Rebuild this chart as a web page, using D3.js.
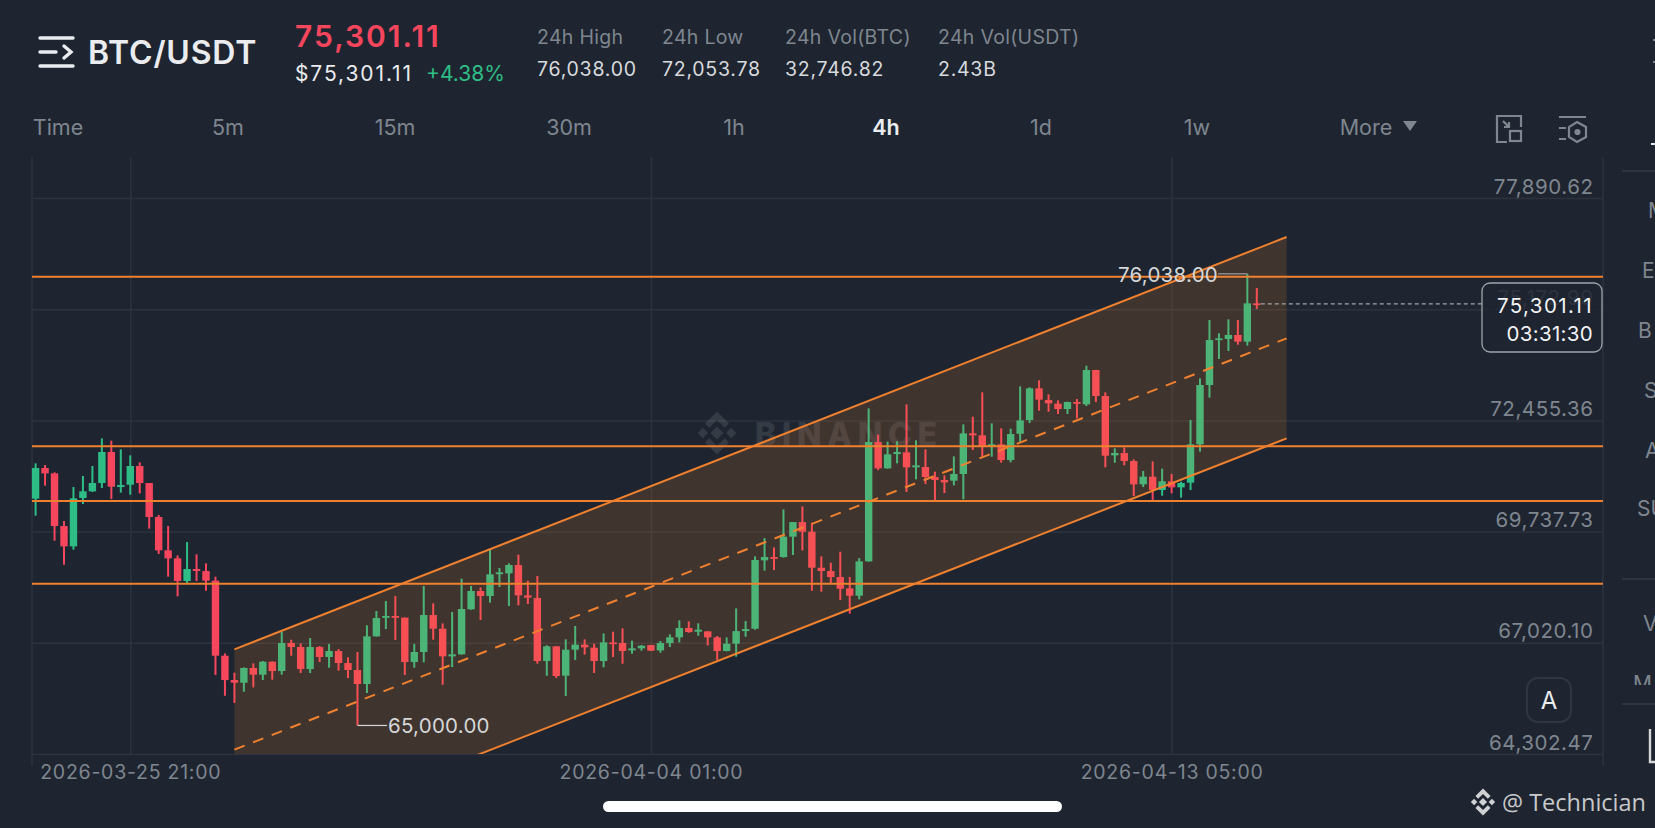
<!DOCTYPE html>
<html lang="en">
<head>
<meta charset="UTF-8">
<title>BTC/USDT 4h</title>
<script src="https://d3js.org/d3.v7.min.js"></script>
<style>
  html, body { margin: 0; padding: 0; background: #1e2530; overflow: hidden; }
  svg { display: block; font-family: Inter, "Noto Sans", sans-serif; }
</style>
</head>
<body>
<svg width="1655" height="828"></svg>
<script>
// candles, oldest first
const openPrices = [70542,71292,71161,69874,69377,70559,70722,70925,71683,70827,70884,71341,70925,70094,69280,69084,68530,68823,68774,68538,66705,66110,66045,66404,66241,66558,66330,67015,66917,66379,66917,66673,66819,66526,66355,66013,67178,67634,67675,67634,66550,66795,67699,67365,66689,66738,67838,68286,68163,68701,68717,68921,68180,68115,66575,66933,66216,66852,66974,66901,66574,67030,67014,66835,66884,66965,66835,67014,67153,67381,67291,67299,67153,66819,66998,67307,67364,69035,69116,69116,69613,69971,69735,68855,68774,68627,68350,68171,69010,71927,71283,71633,71674,71308,71316,71071,70998,70982,71145,72139,72090,71813,71870,71487,72130,72464,73239,72953,72864,72733,72905,72847,73687,73051,71601,71658,71462,70893,71080,70754,70966,70819,70933,71870,73320,74420,74445,74543,74380,75316];
const highPrices = [71406,71365,71186,69996,70827,71096,71341,72017,71960,71748,71601,71430,70925,70143,69874,69157,69483,69182,68962,68636,66762,66290,66420,66518,66575,66567,67292,67096,67007,67137,66941,66990,66868,66664,66795,67447,67797,68041,68163,67640,66990,68408,67984,67495,67772,68587,68408,68375,69304,68848,68962,69174,68538,68652,66958,66940,67104,67430,67104,66998,67250,67291,67373,67071,66965,66970,67063,67226,67568,67544,67495,67305,67185,67153,67861,67552,69132,69580,69352,70281,69620,70354,69955,69132,68978,69246,68627,69092,72750,72106,71935,71943,72847,71968,71748,71202,71112,71576,72359,72546,73141,72383,72261,72253,73287,73263,73434,73092,72945,72913,72978,73792,73690,73141,71772,71796,71503,71219,71455,71276,71145,70958,72465,73483,74909,74583,74925,74909,76038,75691];
const lowPrices = [70127,70860,69516,68929,69296,70412,70705,70803,70534,70689,70640,70673,69809,69190,68636,68155,68481,68530,68294,66233,65727,65548,65825,65931,66110,66118,66241,66705,66281,66282,66550,66412,66339,66159,65000,65793,67170,67357,67088,66233,66412,66542,67096,65996,66428,66730,67830,67577,68001,68383,67919,67935,67968,66510,66216,66159,65719,66599,66730,66282,66419,66672,66509,66753,66827,66819,66778,66916,67030,67267,67193,66957,66599,66811,66680,67169,67340,68782,68798,69100,69165,69279,68293,68269,68472,68065,67731,68081,69000,71242,71275,71405,70705,71014,70900,70509,70680,70868,70526,71731,71568,71568,71422,71430,71935,72391,72693,72668,72611,72611,72505,72807,72905,71308,71422,71357,70607,70827,70510,70616,70673,70567,70754,71691,73011,73956,74151,74306,74282,75178];
const closePrices = [71292,71161,69874,69377,70550,70722,70925,71683,70836,70876,71341,70925,70094,69280,69084,68530,68823,68774,68538,66705,66110,66045,66404,66241,66558,66330,67015,66917,66379,66917,66673,66819,66526,66355,66013,67178,67626,67675,67634,66550,66795,67699,67365,66689,66738,67846,68286,68163,68693,68742,68921,68180,68123,66575,66933,66208,66852,66974,66909,66575,67030,66990,66819,66884,66949,66827,67014,67153,67381,67283,67340,67153,66819,66998,67307,67356,69043,69116,69075,69613,69971,69735,68855,68774,68627,68342,68171,69010,71927,71283,71625,71682,71308,71357,71071,70998,70941,71145,72139,72090,71813,71870,71487,72122,72456,73239,72962,72872,72733,72905,72864,73687,73051,71593,71658,71462,70892,71080,70754,70966,70819,70925,71870,73320,74420,74461,74543,74380,75316,75301.11];

const priceTicks = [77890.62, 75172.99, 72455.36, 69737.73, 67020.10, 64302.47];
const timeTickIndex = [10, 65, 120];
const timeTickLabels = ["2026-03-25 21:00", "2026-04-04 01:00", "2026-04-13 05:00"];

// drawn levels and the parallel channel
const levelPrices = [75967, 71822, 70485, 68464];
const channelIndex = [21, 132.15];
const channelUpper = [66860, 76937];
const channelMiddle = [64409, 74461];
const channelLower = [61955, 72017];

const navLabels = ["Time", "5m", "15m", "30m", "1h", "4h", "1d", "1w", "More"];
const navCentres = [58, 228, 395, 569, 734, 886, 1041, 1197, 1366];
const statTitles = ["24h High", "24h Low", "24h Vol(BTC)", "24h Vol(USDT)"];
const statValues = ["76,038.00", "72,053.78", "32,746.82", "2.43B"];
const statLefts = [537, 662, 785, 938];

const UP = "#2ebd85", DOWN = "#f6465d", ORANGE = "#f0812f", GRID = "#2c333e", GREY = "#7f868f";
const plot = { left: 32, right: 1603, top: 157, bottom: 754 };

const svg = d3.select("svg");
const x = d3.scaleLinear().domain([0, 129]).range([35.6, 1256.8]);
const y = d3.scaleLinear().domain([priceTicks[0], priceTicks[5]]).range([198, 754]);

const defs = svg.append("defs");
defs.append("clipPath").attr("id", "plot-clip")
  .append("rect")
  .attr("x", plot.left).attr("y", plot.top)
  .attr("width", plot.right - plot.left).attr("height", plot.bottom - plot.top);
defs.append("clipPath").attr("id", "side-clip")
  .append("rect").attr("x", 1622).attr("y", 660).attr("width", 33).attr("height", 25);

function text(parent, str, px, py, size, fill, opts = {}) {
  return parent.append("text")
    .attr("x", px).attr("y", py)
    .attr("font-size", size).attr("fill", fill)
    .attr("font-weight", opts.weight || 400)
    .attr("text-anchor", opts.anchor || "start")
    .attr("dominant-baseline", "central")
    .attr("font-family", opts.family || null)
    .attr("letter-spacing", opts.spacing || null)
    .text(str);
}

// Binance logo, five diamonds
function binanceLogo(parent, cx, cy, s, fill) {
  const g = parent.append("g").attr("transform", `translate(${cx},${cy}) scale(${s})`).attr("fill", fill);
  g.append("path").attr("d", "M0,-3 L3,0 L0,3 L-3,0Z");
  g.append("path").attr("d", "M-9,0 L-6.6,-2.4 L-4.2,0 L-6.6,2.4Z");
  g.append("path").attr("d", "M9,0 L6.6,-2.4 L4.2,0 L6.6,2.4Z");
  g.append("path").attr("d", "M0,-10 L5.6,-4.4 L3.6,-2.4 L0,-6 L-3.6,-2.4 L-5.6,-4.4Z");
  g.append("path").attr("d", "M0,10 L5.6,4.4 L3.6,2.4 L0,6 L-3.6,2.4 L-5.6,4.4Z");
  return g;
}

// ---- header
const menu = svg.append("g").attr("stroke", "#eaecef").attr("stroke-width", 3.4).attr("stroke-linecap", "round").attr("fill", "none");
menu.append("path").attr("d", "M40,38 H73");
menu.append("path").attr("d", "M40,52 H56");
menu.append("path").attr("d", "M64,46 L71,52 L64,58");
menu.append("path").attr("d", "M40,66 H73");
text(svg, "BTC/USDT", 88, 52, 32, "#eaecef", { weight: 600, spacing: 0.8 });
text(svg, "75,301.11", 295, 36, 30, DOWN, { weight: 600, spacing: 2 });
text(svg, "$75,301.11", 295, 73, 21, "#eaecef", { spacing: 1.9 });
text(svg, "+4.38%", 426, 73, 21, UP);
statTitles.forEach((t, i) => {
  text(svg, t, statLefts[i], 37, 19.5, GREY, { spacing: 0.3 });
  text(svg, statValues[i], statLefts[i], 69, 19.5, "#d8dade", { spacing: 0.75 });
});
navLabels.forEach((t, i) => {
  text(svg, t, navCentres[i], 127, 21.5, t === "4h" ? "#eaecef" : GREY,
    { anchor: "middle", weight: t === "4h" ? 600 : 400 });
});
svg.append("path").attr("d", "M1403,121 H1417 L1410,131Z").attr("fill", GREY);
const tools = svg.append("g").attr("fill", "none").attr("stroke", GREY).attr("stroke-width", 2.2);
tools.append("path").attr("d", "M1507,142 H1497 V116 H1521 V127");
tools.append("rect").attr("x", 1510).attr("y", 131).attr("width", 11).attr("height", 10);
tools.append("path").attr("d", "M1503,121 L1509,127 M1509,122 V127 H1504");
tools.append("path").attr("d", "M1559,117 H1586 M1559,128 H1566 M1559,139 H1566");
tools.append("path").attr("d", "M1577,122 L1586,127 V137 L1577,142 L1569,137 V127Z");
tools.append("circle").attr("cx", 1577.5).attr("cy", 132).attr("r", 2).attr("fill", GREY);

// ---- axes
const yAxis = d3.axisLeft(y).tickValues(priceTicks)
  .tickSize(plot.right - plot.left).tickFormat(d3.format(",.2f"));
const yG = svg.append("g").attr("transform", `translate(${plot.right},0)`).call(yAxis);
yG.select(".domain").remove();
yG.selectAll("line").attr("stroke", GRID).attr("stroke-width", 1.5);
yG.selectAll("text")
  .attr("x", -9.5).attr("dy", -5)
  .attr("fill", GREY).attr("font-size", 20.5).attr("font-family", "Inter").attr("letter-spacing", 0.55);

const xAxis = d3.axisBottom(x).tickValues(timeTickIndex)
  .tickSize(plot.top - plot.bottom).tickPadding(0)
  .tickFormat((d, i) => timeTickLabels[i]);
const xG = svg.append("g").attr("transform", `translate(0,${plot.bottom})`).call(xAxis);
xG.select(".domain").remove();
xG.selectAll("line").attr("stroke", GRID).attr("stroke-width", 1.5);
xG.selectAll("text")
  .attr("y", 18).attr("dy", "0.36em")
  .attr("fill", GREY).attr("font-size", 19.5).attr("font-family", "Inter").attr("letter-spacing", 0.75);

svg.append("path")
  .attr("d", `M${plot.left},${plot.top} V766 M${plot.right},${plot.top} V766`)
  .attr("stroke", GRID).attr("stroke-width", 1.5);

// ---- watermark
binanceLogo(svg, 717, 433, 2.15, "#ffffff").attr("opacity", 0.1);
text(svg, "BINANCE", 755, 434, 32, "#ffffff", { weight: 800 })
  .attr("textLength", 182).attr("opacity", 0.1);

// ---- candles
const bars = d3.range(openPrices.length).map(i => ({
  i, o: openPrices[i], h: highPrices[i], l: lowPrices[i], c: closePrices[i]
}));
const candle = svg.append("g").selectAll("g").data(bars).join("g")
  .attr("fill", d => d.c >= d.o ? UP : DOWN);
candle.append("rect")
  .attr("x", d => x(d.i) - 1).attr("width", 2)
  .attr("y", d => y(d.h))
  .attr("height", d => y(d.l) - y(d.h));
candle.append("rect")
  .attr("x", d => x(d.i) - 3.7).attr("width", 7.4)
  .attr("y", d => y(Math.max(d.o, d.c)))
  .attr("height", d => Math.max(1.8, Math.abs(y(d.o) - y(d.c))));

// ---- channel
const chan = svg.append("g").attr("clip-path", "url(#plot-clip)");
const pts = channelIndex.map((d, i) => i);
const area = d3.area().x(i => x(channelIndex[i])).y0(i => y(channelLower[i])).y1(i => y(channelUpper[i]));
const lineOf = vals => d3.line().x(i => x(channelIndex[i])).y(i => y(vals[i]))(pts);
chan.append("path").attr("d", area(pts)).attr("fill", "#f6862f").attr("opacity", 0.155);
chan.append("path").attr("d", lineOf(channelUpper)).attr("stroke", ORANGE).attr("stroke-width", 2).attr("fill", "none");
chan.append("path").attr("d", lineOf(channelLower)).attr("stroke", ORANGE).attr("stroke-width", 2).attr("fill", "none");
chan.append("path").attr("d", lineOf(channelMiddle)).attr("stroke", ORANGE).attr("stroke-width", 2).attr("fill", "none")
  .attr("stroke-dasharray", "11 9");

svg.append("g").selectAll("line").data(levelPrices).join("line")
  .attr("x1", plot.left).attr("x2", plot.right)
  .attr("y1", d => y(d)).attr("y2", d => y(d))
  .attr("stroke", ORANGE).attr("stroke-width", 2);

// ---- high / low callouts
const lowIdx = lowPrices.indexOf(d3.min(lowPrices));
const highIdx = highPrices.indexOf(d3.max(highPrices));
svg.append("path")
  .attr("d", `M${x(lowIdx)},${y(65000)} H387`)
  .attr("stroke", "#d5d6d8").attr("stroke-width", 1.2).attr("fill", "none");
text(svg, "65,000.00", 388, y(65000), 20.5, "#d5d6d8", { spacing: 0.25 });
svg.append("path")
  .attr("d", `M${x(highIdx)},${y(76038)} H1218`)
  .attr("stroke", "#9a9ea4").attr("stroke-width", 1.2).attr("fill", "none");
text(svg, "76,038.00", 1118, y(76038) + 1, 20.5, "#d5d6d8", { spacing: 0.25 });

// ---- last price tag
const last = closePrices[closePrices.length - 1];
svg.append("line")
  .attr("x1", x(129) + 4).attr("x2", 1482)
  .attr("y1", y(last)).attr("y2", y(last))
  .attr("stroke", "#a0a5ab").attr("stroke-width", 1.3).attr("stroke-dasharray", "4 3");
svg.append("rect")
  .attr("x", 1482).attr("y", 283).attr("width", 120).attr("height", 69).attr("rx", 8)
  .attr("fill", "#1e2530").attr("fill-opacity", 0.85)
  .attr("stroke", "#a0a5ab").attr("stroke-width", 1.3);
text(svg, d3.format(",.2f")(last), 1593, 305, 20.5, "#f2f3f5", { anchor: "end", spacing: 1.4 });
text(svg, "03:31:30", 1593, 333, 20.5, "#f2f3f5", { anchor: "end", spacing: 0.3 });

// ---- auto scale button
svg.append("rect")
  .attr("x", 1527).attr("y", 678).attr("width", 44).attr("height", 44).attr("rx", 11)
  .attr("fill", "none").attr("stroke", "#2f3640").attr("stroke-width", 2);
text(svg, "A", 1549, 700, 24, "#eaecef", { anchor: "middle" });

// ---- side panel, cut off by the screen edge
const sideLabels = ["M", "E", "B", "S", "A", "SU", "V"];
const sideLefts = [1648, 1642, 1638, 1644, 1645, 1637, 1643];
const sideRows = [210, 270, 330, 390, 450, 508, 623];
sideLabels.forEach((t, i) => text(svg, t, sideLefts[i], sideRows[i], 21, GREY));
svg.append("path")
  .attr("d", "M1622,171 H1655 M1622,579 H1655 M1622,704 H1655")
  .attr("stroke", "#353b45").attr("stroke-width", 1.5);
text(svg, "M", 1633, 683, 21, GREY).attr("clip-path", "url(#side-clip)");
svg.append("path").attr("d", "M1650,729 V762 H1655").attr("stroke", "#d5d6d8").attr("stroke-width", 2.4).attr("fill", "none");
svg.append("path").attr("d", "M1651,144 H1655").attr("stroke", "#eaecef").attr("stroke-width", 2);
svg.append("path").attr("d", "M1653,40 h2 M1653,62 h2").attr("stroke", GREY).attr("stroke-width", 2);

// ---- footer
binanceLogo(svg, 1483, 802, 1.35, "#d0d1d3");
text(svg, "@ Technician", 1502, 802, 23.5, "#c8c9cb", { family: "Open Sans" });
svg.append("rect")
  .attr("x", 603).attr("y", 801).attr("width", 459).attr("height", 11).attr("rx", 5.5)
  .attr("fill", "#ffffff");
</script>
</body>
</html>
